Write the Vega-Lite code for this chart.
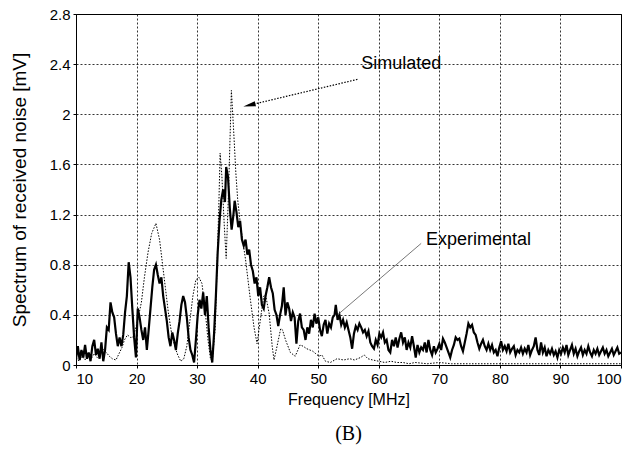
{
"$schema": "https://vega.github.io/schema/vega-lite/v6.json",
"width": 545, "height": 351, "autosize": "none",
"padding": {"left": 76, "top": 14, "right": 14, "bottom": 85},
"background": "white",
"config": {
 "view": {"stroke": "black", "strokeWidth": 1},
 "axis": {"grid": true, "gridColor": "black", "gridDash": [2, 2], "gridOpacity": 1, "gridWidth": 0.8, "domain": false, "ticks": true, "tickSize": 3, "tickColor": "black", "labelFont": "Liberation Sans", "labelFontSize": 15, "labelColor": "black", "titleFont": "Liberation Sans", "titleFontSize": 16, "titleFontWeight": "normal", "titleColor": "black"}
},
"title": {"text": "(B)", "orient": "bottom", "anchor": "middle", "font": "Liberation Serif", "fontSize": 20, "fontWeight": "normal", "color": "black", "offset": 17},
"datasets": {
 "exp": [
{"f":10.0,"v":0.05},{"f":10.3,"v":0.15},{"f":10.6,"v":0.04},{"f":10.9,"v":0.12},{"f":11.2,"v":0.06},{"f":11.5,"v":0.16},{"f":11.8,"v":0.05},{"f":12.1,"v":0.10},{"f":12.4,"v":0.03},{"f":12.7,"v":0.15},{"f":13.0,"v":0.20},{"f":13.3,"v":0.08},{"f":13.6,"v":0.13},{"f":13.9,"v":0.05},{"f":14.2,"v":0.18},{"f":14.5,"v":0.03},{"f":14.8,"v":0.12},{"f":15.1,"v":0.30},{"f":15.4,"v":0.28},{"f":15.7,"v":0.50},{"f":16.0,"v":0.42},{"f":16.3,"v":0.38},{"f":16.6,"v":0.25},{"f":16.9,"v":0.15},{"f":17.2,"v":0.22},{"f":17.5,"v":0.15},{"f":17.8,"v":0.24},{"f":18.1,"v":0.42},{"f":18.4,"v":0.55},{"f":18.7,"v":0.82},{"f":19.0,"v":0.70},{"f":19.3,"v":0.45},{"f":19.6,"v":0.22},{"f":19.9,"v":0.06},{"f":20.2,"v":0.45},{"f":20.5,"v":0.38},{"f":20.8,"v":0.28},{"f":21.1,"v":0.20},{"f":21.4,"v":0.30},{"f":21.7,"v":0.12},{"f":22.0,"v":0.28},{"f":22.3,"v":0.45},{"f":22.6,"v":0.62},{"f":22.9,"v":0.76},{"f":23.2,"v":0.80},{"f":23.5,"v":0.72},{"f":23.8,"v":0.65},{"f":24.1,"v":0.70},{"f":24.4,"v":0.55},{"f":24.7,"v":0.45},{"f":25.0,"v":0.35},{"f":25.3,"v":0.22},{"f":25.6,"v":0.15},{"f":25.9,"v":0.26},{"f":26.2,"v":0.20},{"f":26.5,"v":0.12},{"f":26.8,"v":0.25},{"f":27.1,"v":0.35},{"f":27.4,"v":0.48},{"f":27.7,"v":0.55},{"f":28.0,"v":0.50},{"f":28.3,"v":0.38},{"f":28.6,"v":0.22},{"f":28.9,"v":0.12},{"f":29.2,"v":0.08},{"f":29.5,"v":0.02},{"f":29.8,"v":0.20},{"f":30.1,"v":0.40},{"f":30.4,"v":0.52},{"f":30.7,"v":0.45},{"f":31.0,"v":0.58},{"f":31.3,"v":0.40},{"f":31.6,"v":0.55},{"f":31.9,"v":0.30},{"f":32.2,"v":0.12},{"f":32.5,"v":0.02},{"f":32.8,"v":0.25},{"f":33.1,"v":0.55},{"f":33.4,"v":0.90},{"f":33.7,"v":1.15},{"f":34.0,"v":1.32},{"f":34.3,"v":1.40},{"f":34.6,"v":1.30},{"f":34.8,"v":1.58},{"f":35.1,"v":1.50},{"f":35.4,"v":1.25},{"f":35.7,"v":1.08},{"f":36.0,"v":1.20},{"f":36.2,"v":1.31},{"f":36.5,"v":1.22},{"f":36.8,"v":1.10},{"f":37.1,"v":1.15},{"f":37.4,"v":1.00},{"f":37.7,"v":0.95},{"f":38.0,"v":1.00},{"f":38.3,"v":0.88},{"f":38.6,"v":0.92},{"f":38.9,"v":0.80},{"f":39.2,"v":0.75},{"f":39.5,"v":0.65},{"f":39.8,"v":0.70},{"f":40.1,"v":0.55},{"f":40.4,"v":0.62},{"f":40.7,"v":0.48},{"f":41.0,"v":0.45},{"f":41.3,"v":0.55},{"f":41.6,"v":0.62},{"f":41.9,"v":0.70},{"f":42.2,"v":0.62},{"f":42.5,"v":0.57},{"f":42.8,"v":0.44},{"f":43.1,"v":0.40},{"f":43.4,"v":0.31},{"f":43.7,"v":0.40},{"f":44.0,"v":0.47},{"f":44.3,"v":0.62},{"f":44.6,"v":0.40},{"f":44.9,"v":0.50},{"f":45.2,"v":0.45},{"f":45.5,"v":0.35},{"f":45.8,"v":0.42},{"f":46.1,"v":0.38},{"f":46.4,"v":0.17},{"f":46.7,"v":0.35},{"f":47.0,"v":0.41},{"f":47.3,"v":0.30},{"f":47.6,"v":0.28},{"f":47.9,"v":0.20},{"f":48.2,"v":0.30},{"f":48.5,"v":0.25},{"f":48.8,"v":0.36},{"f":49.1,"v":0.30},{"f":49.4,"v":0.41},{"f":49.7,"v":0.33},{"f":50.0,"v":0.38},{"f":50.3,"v":0.28},{"f":50.6,"v":0.23},{"f":50.9,"v":0.32},{"f":51.2,"v":0.36},{"f":51.5,"v":0.25},{"f":51.8,"v":0.33},{"f":52.1,"v":0.30},{"f":52.4,"v":0.38},{"f":52.7,"v":0.40},{"f":52.9,"v":0.48},{"f":53.2,"v":0.36},{"f":53.5,"v":0.40},{"f":53.8,"v":0.32},{"f":54.1,"v":0.36},{"f":54.4,"v":0.30},{"f":54.7,"v":0.34},{"f":55.0,"v":0.28},{"f":55.3,"v":0.22},{"f":55.6,"v":0.13},{"f":55.9,"v":0.25},{"f":56.2,"v":0.31},{"f":56.5,"v":0.28},{"f":56.8,"v":0.33},{"f":57.1,"v":0.30},{"f":57.4,"v":0.26},{"f":57.7,"v":0.28},{"f":58.0,"v":0.23},{"f":58.3,"v":0.27},{"f":58.6,"v":0.18},{"f":58.9,"v":0.15},{"f":59.2,"v":0.13},{"f":59.5,"v":0.20},{"f":59.8,"v":0.16},{"f":60.1,"v":0.25},{"f":60.4,"v":0.22},{"f":60.7,"v":0.26},{"f":61.0,"v":0.18},{"f":61.3,"v":0.20},{"f":61.6,"v":0.12},{"f":61.9,"v":0.10},{"f":62.2,"v":0.20},{"f":62.5,"v":0.15},{"f":62.8,"v":0.22},{"f":63.1,"v":0.14},{"f":63.4,"v":0.21},{"f":63.7,"v":0.26},{"f":64.0,"v":0.18},{"f":64.3,"v":0.22},{"f":64.6,"v":0.12},{"f":64.9,"v":0.18},{"f":65.2,"v":0.14},{"f":65.5,"v":0.23},{"f":65.8,"v":0.15},{"f":66.1,"v":0.06},{"f":66.4,"v":0.16},{"f":66.7,"v":0.10},{"f":67.0,"v":0.14},{"f":67.3,"v":0.12},{"f":67.6,"v":0.18},{"f":67.9,"v":0.10},{"f":68.2,"v":0.20},{"f":68.5,"v":0.12},{"f":68.8,"v":0.08},{"f":69.1,"v":0.15},{"f":69.4,"v":0.10},{"f":69.7,"v":0.13},{"f":70.0,"v":0.17},{"f":70.3,"v":0.12},{"f":70.6,"v":0.21},{"f":70.9,"v":0.18},{"f":71.2,"v":0.14},{"f":71.5,"v":0.10},{"f":71.8,"v":0.06},{"f":72.1,"v":0.12},{"f":72.4,"v":0.16},{"f":72.7,"v":0.22},{"f":73.0,"v":0.20},{"f":73.3,"v":0.21},{"f":73.6,"v":0.15},{"f":73.9,"v":0.11},{"f":74.2,"v":0.18},{"f":74.5,"v":0.25},{"f":74.8,"v":0.33},{"f":75.1,"v":0.30},{"f":75.4,"v":0.32},{"f":75.7,"v":0.26},{"f":76.0,"v":0.24},{"f":76.3,"v":0.18},{"f":76.6,"v":0.13},{"f":76.9,"v":0.17},{"f":77.2,"v":0.20},{"f":77.5,"v":0.15},{"f":77.8,"v":0.12},{"f":78.1,"v":0.17},{"f":78.4,"v":0.12},{"f":78.7,"v":0.16},{"f":79.0,"v":0.10},{"f":79.3,"v":0.12},{"f":79.6,"v":0.07},{"f":79.9,"v":0.14},{"f":80.2,"v":0.19},{"f":80.5,"v":0.12},{"f":80.8,"v":0.15},{"f":81.1,"v":0.11},{"f":81.4,"v":0.17},{"f":81.7,"v":0.10},{"f":82.0,"v":0.13},{"f":82.3,"v":0.15},{"f":82.6,"v":0.08},{"f":82.9,"v":0.12},{"f":83.2,"v":0.10},{"f":83.5,"v":0.14},{"f":83.8,"v":0.09},{"f":84.1,"v":0.13},{"f":84.4,"v":0.10},{"f":84.7,"v":0.16},{"f":85.0,"v":0.08},{"f":85.3,"v":0.12},{"f":85.6,"v":0.15},{"f":85.9,"v":0.22},{"f":86.2,"v":0.12},{"f":86.5,"v":0.08},{"f":86.8,"v":0.18},{"f":87.1,"v":0.10},{"f":87.4,"v":0.14},{"f":87.7,"v":0.07},{"f":88.0,"v":0.12},{"f":88.3,"v":0.09},{"f":88.6,"v":0.13},{"f":88.9,"v":0.08},{"f":89.2,"v":0.11},{"f":89.5,"v":0.06},{"f":89.8,"v":0.12},{"f":90.1,"v":0.09},{"f":90.4,"v":0.14},{"f":90.7,"v":0.10},{"f":91.0,"v":0.16},{"f":91.3,"v":0.08},{"f":91.6,"v":0.12},{"f":91.9,"v":0.16},{"f":92.2,"v":0.09},{"f":92.5,"v":0.13},{"f":92.8,"v":0.07},{"f":93.1,"v":0.11},{"f":93.4,"v":0.14},{"f":93.7,"v":0.08},{"f":94.0,"v":0.12},{"f":94.3,"v":0.09},{"f":94.6,"v":0.15},{"f":94.9,"v":0.10},{"f":95.2,"v":0.07},{"f":95.5,"v":0.12},{"f":95.8,"v":0.09},{"f":96.1,"v":0.13},{"f":96.4,"v":0.08},{"f":96.7,"v":0.11},{"f":97.0,"v":0.14},{"f":97.3,"v":0.09},{"f":97.6,"v":0.12},{"f":97.9,"v":0.07},{"f":98.2,"v":0.10},{"f":98.5,"v":0.13},{"f":98.8,"v":0.08},{"f":99.1,"v":0.11},{"f":99.4,"v":0.14},{"f":99.7,"v":0.09},{"f":100.0,"v":0.10}
 ],
 "sim": [
{"f":10,"v":0.06},{"f":10.5,"v":0.03},{"f":11,"v":0.07},{"f":11.5,"v":0.04},{"f":12,"v":0.08},{"f":12.5,"v":0.05},{"f":13,"v":0.09},{"f":13.5,"v":0.06},{"f":14,"v":0.1},{"f":14.5,"v":0.13},{"f":15,"v":0.1},{"f":15.5,"v":0.07},{"f":16,"v":0.05},{"f":16.6,"v":0.04},{"f":17.1,"v":0.09},{"f":17.6,"v":0.14},{"f":18,"v":0.2},{"f":18.5,"v":0.24},{"f":19,"v":0.22},{"f":19.4,"v":0.22},{"f":19.9,"v":0.3},{"f":20.2,"v":0.36},{"f":20.8,"v":0.5},{"f":21.3,"v":0.7},{"f":21.9,"v":0.9},{"f":22.5,"v":1.05},{"f":23.2,"v":1.13},{"f":23.8,"v":1.0},{"f":24.3,"v":0.8},{"f":24.8,"v":0.6},{"f":25.3,"v":0.4},{"f":25.8,"v":0.25},{"f":26.3,"v":0.15},{"f":26.8,"v":0.08},{"f":27.3,"v":0.03},{"f":27.8,"v":0.05},{"f":28.3,"v":0.15},{"f":28.8,"v":0.35},{"f":29.3,"v":0.55},{"f":29.8,"v":0.68},{"f":30.3,"v":0.7},{"f":30.8,"v":0.65},{"f":31.3,"v":0.45},{"f":31.8,"v":0.2},{"f":32.2,"v":0.05},{"f":32.5,"v":0.03},{"f":33,"v":0.3},{"f":33.3,"v":0.8},{"f":33.6,"v":1.3},{"f":33.8,"v":1.69},{"f":34.1,"v":1.5},{"f":34.5,"v":1.1},{"f":34.8,"v":0.85},{"f":35.2,"v":1.4},{"f":35.66,"v":2.19},{"f":36,"v":1.9},{"f":36.4,"v":1.53},{"f":36.7,"v":1.32},{"f":37.2,"v":1.1},{"f":38,"v":0.84},{"f":38.8,"v":0.52},{"f":39.4,"v":0.3},{"f":39.9,"v":0.17},{"f":40.5,"v":0.38},{"f":41,"v":0.55},{"f":41.3,"v":0.56},{"f":41.9,"v":0.41},{"f":42.4,"v":0.15},{"f":42.7,"v":0.04},{"f":43.2,"v":0.15},{"f":43.8,"v":0.29},{"f":44.1,"v":0.28},{"f":44.6,"v":0.2},{"f":45.4,"v":0.1},{"f":46.2,"v":0.07},{"f":47,"v":0.16},{"f":47.5,"v":0.15},{"f":48.1,"v":0.13},{"f":49.1,"v":0.11},{"f":50.1,"v":0.07},{"f":50.6,"v":0.08},{"f":51.2,"v":0.03},{"f":52,"v":0.02},{"f":53.1,"v":0.05},{"f":54.2,"v":0.04},{"f":55.2,"v":0.05},{"f":56,"v":0.04},{"f":57,"v":0.06},{"f":57.6,"v":0.08},{"f":58.2,"v":0.05},{"f":59,"v":0.04},{"f":60,"v":0.03},{"f":61,"v":0.02},{"f":62,"v":0.03},{"f":63,"v":0.02},{"f":64,"v":0.02},{"f":65,"v":0.01},{"f":66,"v":0.02},{"f":68,"v":0.01},{"f":70,"v":0.02},{"f":72,"v":0.01},{"f":75,"v":0.01},{"f":80,"v":0.01},{"f":85,"v":0.01},{"f":90,"v":0.01},{"f":95,"v":0.01},{"f":100,"v":0.01}
 ],
 "arrowSim": [{"f":56.6,"v":2.28},{"f":38.4,"v":2.07}],
 "headSim": [{"f":38.4,"v":2.07}],
 "lineExp": [{"f":67.0,"v":0.97},{"f":53.2,"v":0.40}],
 "labels": [{"f":57.1,"v":2.4,"t":"Simulated"},{"f":67.8,"v":1.0,"t":"Experimental"}]
},
"encoding": {
 "x": {"field": "f", "type": "quantitative", "scale": {"domain": [10, 100], "nice": false, "zero": false}, "axis": {"values": [10,20,30,40,50,60,70,80,90,100], "title": "Frequency [MHz]", "labelPadding": 3, "titlePadding": 5}},
 "y": {"field": "v", "type": "quantitative", "scale": {"domain": [0, 2.8], "nice": false}, "axis": {"values": [0,0.4,0.8,1.2,1.6,2,2.4,2.8], "format": "~g", "title": "Spectrum of received noise [mV]", "titleFontSize": 19, "labelPadding": 3, "titlePadding": 20}}
},
"layer": [
 {"data": {"name": "sim"}, "mark": {"type": "line", "color": "black", "strokeWidth": 1, "strokeDash": [1.5, 1.5], "clip": true}},
 {"data": {"name": "exp"}, "mark": {"type": "line", "color": "black", "strokeWidth": 2.2, "clip": true}},
 {"data": {"name": "arrowSim"}, "mark": {"type": "line", "color": "black", "strokeWidth": 1.2, "strokeDash": [1.5, 1.5]}},
 {"data": {"name": "headSim"}, "mark": {"type": "point", "shape": "M1,0L-1.6,-0.55L-1.6,0.55Z", "filled": true, "color": "black", "opacity": 1, "size": 90, "angle": 167}},
 {"data": {"name": "lineExp"}, "mark": {"type": "line", "color": "#555555", "strokeWidth": 0.8}},
 {"data": {"name": "labels"}, "mark": {"type": "text", "align": "left", "baseline": "middle", "font": "Liberation Sans", "fontSize": 18, "color": "black"}, "encoding": {"text": {"field": "t"}}}
]
}
